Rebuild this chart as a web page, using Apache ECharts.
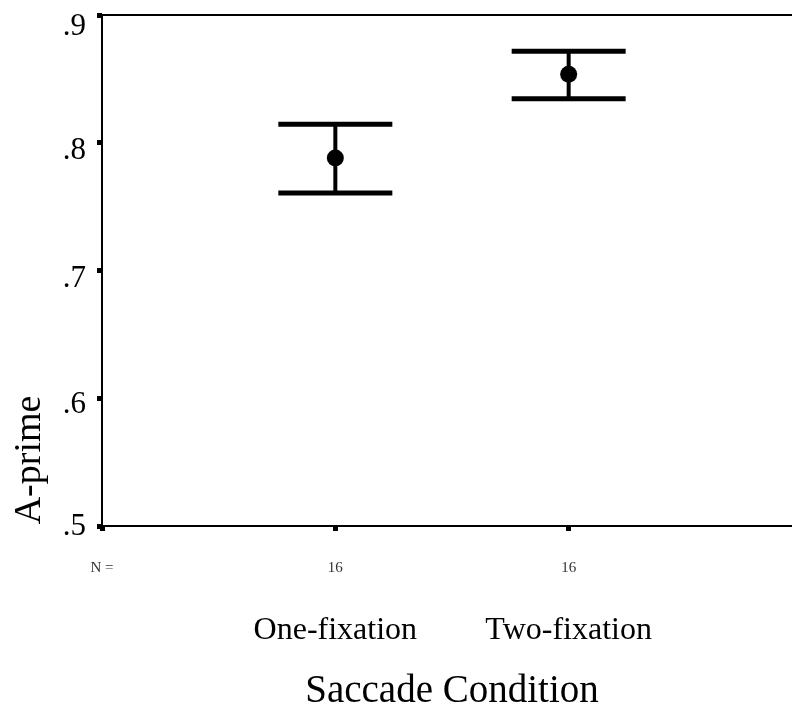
<!DOCTYPE html>
<html>
<head>
<meta charset="utf-8">
<script src="https://cdn.jsdelivr.net/npm/echarts@6/dist/echarts.min.js"></script>
<style>
html,body{margin:0;padding:0;background:#fff;}
#chart{width:792px;height:702px;}
</style>
</head>
<body>
<div id="chart"></div>
<script>
// Data
const categories = ['One-fixation', 'Two-fixation'];
const nValues = [16, 16];
const means = [0.788, 0.8536];
const lowerCI = [0.7606, 0.8344];
const upperCI = [0.8144, 0.8717];
const yTicks = [0.5, 0.6, 0.7, 0.8, 0.9];

const FONT = '"Liberation Serif", "Times New Roman", serif';

const chart = echarts.init(document.getElementById('chart'), null, {renderer: 'canvas'});

const seriesData = categories.map((c, i) => [i + 1, means[i], lowerCI[i], upperCI[i]]);

// per-tick label line heights (reproduce slight label drift of original)
const yLabelLH = [1, 14, 16, 17, 23];
const yRich = {};
yLabelLH.forEach((lh, i) => {
  yRich['l' + i] = {fontFamily: FONT, fontSize: 31, color: '#000', lineHeight: lh};
});

const option = {
  animation: false,
  backgroundColor: '#fff',
  grid: {
    left: 102, top: 15, width: 700, height: 511,
    containLabel: false,
    outerBoundsMode: 'none',
    show: false
  },
  xAxis: [{
    type: 'value', min: 0, max: 3, interval: 1,
    splitLine: {show: false},
    axisLine: {show: true, lineStyle: {color: '#000', width: 2}},
    axisTick: {show: true, length: 5, lineStyle: {color: '#000', width: 5}},
    axisLabel: {
      margin: 31,
      showMaxLabel: false,
      formatter: function (v) {
        if (v === 0) return '{n|N =}';
        const i = Math.round(v) - 1;
        if (i >= 0 && i < categories.length) return '{n|' + nValues[i] + '}\n{c|' + categories[i] + '}';
        return '';
      },
      rich: {
        n: {fontFamily: FONT, fontSize: 15, color: '#333', lineHeight: 22},
        c: {fontFamily: FONT, fontSize: 32, color: '#000', lineHeight: 104}
      }
    },
    name: 'Saccade Condition',
    nameLocation: 'middle',
    nameGap: 146,
    nameTextStyle: {fontFamily: FONT, fontSize: 39, color: '#000'}
  }, {
    type: 'value', min: 0, max: 3, position: 'top',
    splitLine: {show: false},
    axisLine: {show: true, onZero: false, lineStyle: {color: '#000', width: 2}},
    axisTick: {show: false},
    axisLabel: {show: false}
  }],
  yAxis: {
    type: 'value', min: 0.5, max: 0.9, interval: 0.1,
    offset: 2,
    splitLine: {show: false},
    axisLine: {show: true, lineStyle: {color: '#000', width: 2}},
    axisTick: {show: true, length: 5, lineStyle: {color: '#000', width: 5}},
    axisLabel: {
      margin: 14,
      verticalAlign: 'top',
      formatter: function (v) {
        const idx = yTicks.findIndex(t => Math.abs(t - v) < 1e-6);
        return '{l' + idx + '|' + v.toFixed(1).replace(/^0/, '') + '}';
      },
      rich: yRich
    }
  },
  graphic: [{
    type: 'text',
    x: 30, y: 460,
    rotation: Math.PI / 2,
    style: {
      text: 'A-prime',
      font: '38px ' + FONT,
      fill: '#000',
      textAlign: 'center',
      textVerticalAlign: 'middle'
    }
  }],
  series: [{
    type: 'custom',
    data: seriesData,
    encode: {x: 0, y: [1, 2, 3]},
    renderItem: function (params, api) {
      const x = api.value(0);
      const pm = api.coord([x, api.value(1)]);
      const pl = api.coord([x, api.value(2)]);
      const pu = api.coord([x, api.value(3)]);
      const hw = 57;
      const lineStyle = {stroke: '#000', lineWidth: 4};
      const capStyle = {stroke: '#000', lineWidth: 5};
      return {
        type: 'group',
        children: [
          {type: 'line', shape: {x1: pm[0], y1: pu[1], x2: pm[0], y2: pl[1]}, style: lineStyle},
          {type: 'line', shape: {x1: pm[0] - hw, y1: pu[1], x2: pm[0] + hw, y2: pu[1]}, style: capStyle},
          {type: 'line', shape: {x1: pm[0] - hw, y1: pl[1], x2: pm[0] + hw, y2: pl[1]}, style: capStyle},
          {type: 'circle', shape: {cx: pm[0], cy: pm[1], r: 8.5}, style: {fill: '#000'}}
        ]
      };
    }
  }]
};
chart.setOption(option);
</script>
</body>
</html>
